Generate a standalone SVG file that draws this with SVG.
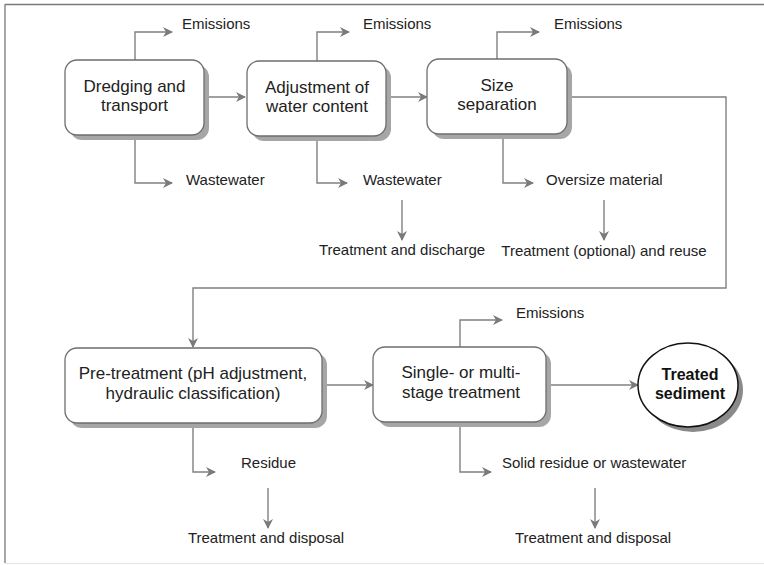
<svg xmlns="http://www.w3.org/2000/svg" width="764" height="565" viewBox="0 0 764 565">
<defs>
<marker id="ah" viewBox="0 0 10 10" refX="9" refY="5" markerWidth="10" markerHeight="10" markerUnits="userSpaceOnUse" orient="auto">
<path d="M0,0 L10,5 L0,10 L3,5 Z" fill="#7a7a7a"/>
</marker>
</defs>
<style>
.bx{fill:#fff;stroke:#6e6e6e;stroke-width:1.3}
.sh{fill:#a6a6a6}
.ln{fill:none;stroke:#808080;stroke-width:1.4}
.ar{fill:none;stroke:#808080;stroke-width:1.4;marker-end:url(#ah)}
.t{font-family:"Liberation Sans",Arial,sans-serif;font-size:17px;fill:#222;text-anchor:middle}
.l{font-family:"Liberation Sans",Arial,sans-serif;font-size:15px;fill:#222}
.c{text-anchor:middle}
.b{font-family:"Liberation Sans",Arial,sans-serif;font-size:16px;font-weight:bold;fill:#111;text-anchor:middle}
</style>
<rect width="764" height="565" fill="#fff"/>
<g id="frame">
<line x1="5" y1="4.5" x2="764" y2="4.5" stroke="#7a7a7a" stroke-width="1.5"/>
<line x1="5" y1="4" x2="5" y2="563" stroke="#8a8a8a" stroke-width="1.5"/>
<line x1="5" y1="563.5" x2="764" y2="563.5" stroke="#e4e4e4" stroke-width="1"/>
</g>
<g id="connectors">
<polyline class="ar" points="135,60 135,32 172,32"/>
<polyline class="ar" points="135,135 135,183 172,183"/>
<line class="ar" x1="204" y1="97" x2="245" y2="97"/>
<polyline class="ar" points="317,61 317,32 349,32"/>
<polyline class="ar" points="317,136 317,183 347,183"/>
<line class="ar" x1="386" y1="97" x2="427" y2="97"/>
<polyline class="ar" points="497,59 497,32 539,32"/>
<polyline class="ar" points="503,134 503,183 533,183"/>
<line class="ar" x1="402" y1="200" x2="402" y2="240"/>
<line class="ar" x1="604" y1="200" x2="604" y2="240"/>
<polyline class="ar" points="567,97 726,97 726,288 193,288 193,347"/>
<line class="ar" x1="322" y1="385" x2="373" y2="385"/>
<polyline class="ar" points="460,347 460,320 502,320"/>
<line class="ar" x1="546" y1="385" x2="638" y2="385"/>
<polyline class="ar" points="193,423 193,472 215,472"/>
<line class="ar" x1="268" y1="488" x2="268" y2="528"/>
<polyline class="ar" points="460,422 460,472 491,472"/>
<line class="ar" x1="595" y1="488" x2="595" y2="528"/>
</g>
<g id="n1">
<rect class="sh" x="70" y="65" width="139" height="75" rx="12"/>
<rect class="bx" x="65" y="60" width="139" height="75" rx="12"/>
<text class="t" x="134.5" y="92">Dredging and</text>
<text class="t" x="134.5" y="111">transport</text>
</g>
<g id="n2">
<rect class="sh" x="252" y="66" width="139" height="75" rx="12"/>
<rect class="bx" x="247" y="61" width="139" height="75" rx="12"/>
<text class="t" x="317" y="93">Adjustment of</text>
<text class="t" x="317" y="112">water content</text>
</g>
<g id="n3">
<rect class="sh" x="432" y="64" width="140" height="75" rx="12"/>
<rect class="bx" x="427" y="59" width="140" height="75" rx="12"/>
<text class="t" x="497" y="91">Size</text>
<text class="t" x="497" y="110">separation</text>
</g>
<g id="n4">
<rect class="sh" x="70" y="353" width="257" height="75" rx="12"/>
<rect class="bx" x="65" y="348" width="257" height="75" rx="12"/>
<text class="t" x="193" y="379">Pre-treatment (pH adjustment,</text>
<text class="t" x="193" y="399">hydraulic classification)</text>
</g>
<g id="n5">
<rect class="sh" x="378" y="352" width="173" height="75" rx="12"/>
<rect class="bx" x="373" y="347" width="173" height="75" rx="12"/>
<text class="t" x="461" y="378">Single- or multi-</text>
<text class="t" x="461" y="398">stage treatment</text>
</g>
<g id="n6">
<ellipse cx="693" cy="390" rx="50" ry="42" fill="#8a8a8a"/>
<ellipse cx="688" cy="385" rx="50" ry="42" fill="#fff" stroke="#111" stroke-width="1.5"/>
<text class="b" x="690" y="380">Treated</text>
<text class="b" x="690" y="399">sediment</text>
</g>
<g id="labels">
<text class="l" x="182" y="29">Emissions</text>
<text class="l" x="186" y="185">Wastewater</text>
<text class="l" x="363" y="29">Emissions</text>
<text class="l" x="363" y="185">Wastewater</text>
<text class="l" x="554" y="29">Emissions</text>
<text class="l" x="546" y="185">Oversize material</text>
<text class="l c" x="402" y="255">Treatment and discharge</text>
<text class="l c" x="604" y="256">Treatment (optional) and reuse</text>
<text class="l" x="516" y="318">Emissions</text>
<text class="l" x="241" y="468">Residue</text>
<text class="l" x="502" y="468">Solid residue or wastewater</text>
<text class="l c" x="266" y="543">Treatment and disposal</text>
<text class="l c" x="593" y="543">Treatment and disposal</text>
</g>
</svg>
